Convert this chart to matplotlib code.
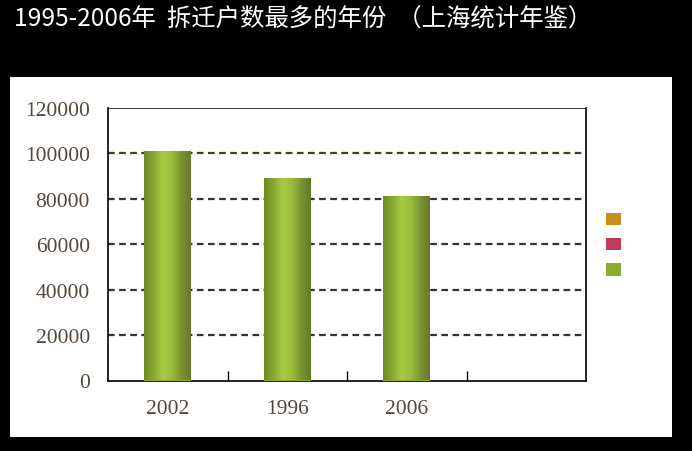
import numpy as np
import matplotlib.pyplot as plt
from matplotlib.patches import Rectangle, Patch
from matplotlib.colors import LinearSegmentedColormap

plt.rcParams['font.family'] = ['Noto Sans CJK SC', 'DejaVu Sans']

# 数据
years = ['2002', '1996', '2006', '']
households = [101000, 89000, 81400]
y_ticks = [0, 20000, 40000, 60000, 80000, 100000, 120000]
legend_colors = ['#c4921c', '#c23a5c', '#8cac30']

title = '1995-2006年  拆迁户数最多的年份  （上海统计年鉴）'

fig = plt.figure(figsize=(6.92, 4.52), dpi=100, facecolor='black')

# 白色图表区
panel = Rectangle((10 / 692, 1 - 438 / 452), 662 / 692, 360 / 452,
                  transform=fig.transFigure, facecolor='white',
                  edgecolor='none', zorder=-5)
fig.patches.append(panel)

fig.text(14 / 692, 1 - 19 / 452, title, color='white', fontsize=17.6,
         va='center', ha='left')

ax = fig.add_axes([108 / 692, 1 - 381.5 / 452, 478 / 692, 272.5 / 452])
ax.set_facecolor('white')

x = np.arange(len(households))
bars = ax.bar(x, households, width=0.39, color='#8cac30', zorder=3)

# 圆柱效果的渐变
grad_cmap = LinearSegmentedColormap.from_list(
    'cyl', ['#6e8a24', '#86a830', '#a6cc44', '#98bc3a', '#7a9430', '#66782c'])
grad = np.linspace(0, 1, 256).reshape(1, -1)
for b in bars:
    x0, y0 = b.get_x(), b.get_y()
    w, h = b.get_width(), b.get_height()
    im = ax.imshow(grad, cmap=grad_cmap, aspect='auto',
                   extent=(x0, x0 + w, y0, y0 + h), zorder=4)
    im.set_clip_path(b)

ax.set_xlim(-0.5, 3.5)
ax.set_ylim(0, 120000)

ax.set_xticks(range(len(years)))
ax.set_xticklabels(years)
ax.set_xticks([0.5, 1.5, 2.5], minor=True)
ax.tick_params(axis='x', which='major', length=0, pad=13)
ax.tick_params(axis='x', which='minor', direction='in', length=7,
               width=1, color='black')

ax.set_yticks(y_ticks)
ax.tick_params(axis='y', length=0, pad=13)
for lab in ax.get_xticklabels() + ax.get_yticklabels():
    lab.set_family('Liberation Serif')
    lab.set_fontsize(15.5)
    lab.set_color('#54483c')

# 网格线, 顶部为实线
for yv in y_ticks[1:-1]:
    c = '#4a3e1c' if yv == 100000 else '#333333'
    ax.axhline(yv, color=c, lw=1.6, ls=(0, (3, 2)), zorder=2)
ax.axhline(y_ticks[-1], color='#262626', lw=1.3, zorder=2)

for s in ax.spines.values():
    s.set_color('black')
    s.set_linewidth(1.2)
ax.spines['top'].set_visible(False)

handles = [Patch(facecolor=c, edgecolor='none') for c in legend_colors]
fig.legend(handles, [' ', ' ', ' '], loc='center left',
           bbox_to_anchor=(599 / 692, 1 - 246 / 452), frameon=False,
           fontsize=10, handlelength=1.1, handleheight=1.0,
           labelspacing=0.8, handletextpad=0.2, borderpad=0)

fig.savefig('out.png', dpi=100, facecolor='black')
